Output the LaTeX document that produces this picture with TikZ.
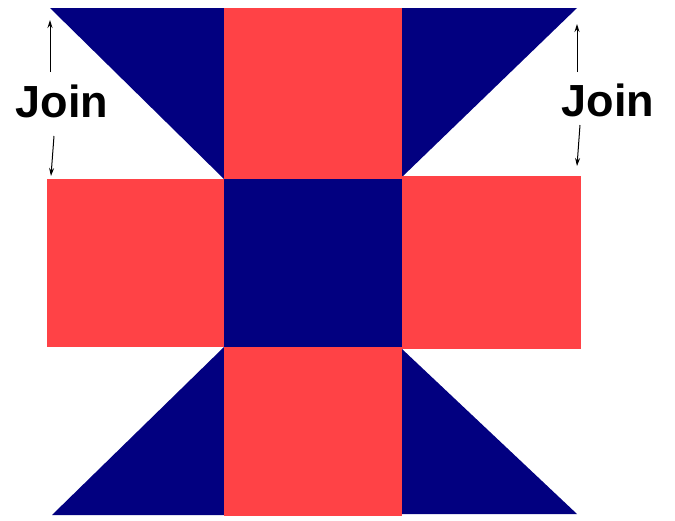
\documentclass[tikz,border=0pt]{standalone}
\usepackage{fontspec}
\setmainfont{Liberation Sans}
\usetikzlibrary{arrows.meta}
\definecolor{navyq}{RGB}{2,0,128}
\definecolor{redq}{RGB}{255,66,70}
\begin{document}
\begin{tikzpicture}[x=1pt,y=-1pt,
  blue/.style={fill=navyq,draw=none},
  red/.style={fill=redq,draw=none},
  joinlbl/.style={font=\fontsize{45}{45}\selectfont\bfseries,inner sep=0pt,text=black},
  joinarrow/.style={-{Stealth[length=8pt,width=5pt]},line width=1pt,black}]
\useasboundingbox (0,0) rectangle (675,520);
\fill[white] (0,0) rectangle (675,520);
% top row
\fill[blue] (50,8) -- (224,8) -- (224,179) -- cycle;
\fill[red] (224,8) rectangle (402,179);
\fill[blue] (402,8) -- (577,8) -- (402,177) -- cycle;
% middle row
\fill[red] (47,179) rectangle (224,347);
\fill[blue] (224,179) rectangle (402,347);
\fill[red] (402,176) rectangle (581,349);
% bottom row
\fill[blue] (224,347) -- (224,515) -- (52,515) -- cycle;
\fill[red] (224,347) rectangle (402,516);
\fill[blue] (402,349) -- (402,514) -- (577,514) -- cycle;
% labels
\node[joinlbl] (jl) at (62,101) {Join};
\node[joinlbl] (jr) at (608,100) {Join};
\coordinate (jlt) at (50,20);
\coordinate (jlb) at (51,176);
\coordinate (jrt) at (577,24);
\coordinate (jrb) at (577,166);
\coordinate (jls) at (50,72);
\coordinate (jlbs) at (54,136);
\coordinate (jrs) at (577,72);
\coordinate (jrbs) at (580,125);
\draw[joinarrow] (jls) -- (jlt);
\draw[joinarrow] (jlbs) -- (jlb);
\draw[joinarrow] (jrs) -- (jrt);
\draw[joinarrow] (jrbs) -- (jrb);
\end{tikzpicture}
\end{document}
